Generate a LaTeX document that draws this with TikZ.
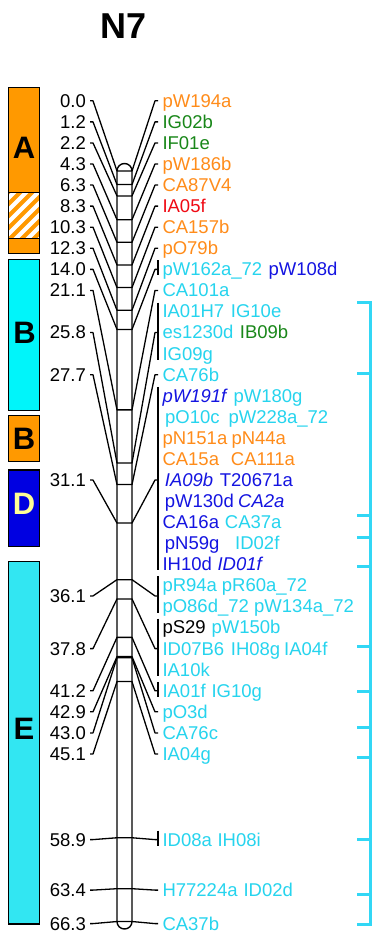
\documentclass[tikz,border=0pt]{standalone}
\usepackage{fontspec}
\setmainfont{Liberation Sans}
\usetikzlibrary{calc}
\definecolor{orgtxt}{RGB}{255,140,26}
\definecolor{cyntxt}{RGB}{38,212,238}
\definecolor{blutxt}{RGB}{20,20,225}
\definecolor{grntxt}{RGB}{25,135,25}
\definecolor{redtxt}{RGB}{240,10,20}
\definecolor{orgbar}{RGB}{255,153,0}
\definecolor{cynB}{RGB}{0,245,250}
\definecolor{cynE}{RGB}{50,230,242}
\definecolor{bluD}{RGB}{0,0,225}
\definecolor{dyel}{RGB}{255,255,150}
\definecolor{brkc}{RGB}{50,215,245}
\begin{document}
\begin{tikzpicture}[x=1pt,y=-1pt,
  conn/.style={line width=1.3pt, black, line join=round},
  numlab/.style={anchor=base east, inner sep=0pt, font=\fontsize{18.5}{20}\selectfont},
  mk/.style={anchor=base west, inner sep=0pt, font=\fontsize{18.5}{20}\selectfont},
  mki/.style={mk, font=\fontsize{18.5}{20}\selectfont\itshape},
  barbox/.style={line width=1.5pt, draw=black},
  barletter/.style={font=\fontsize{31}{34}\selectfont\bfseries, inner sep=0pt},
  brk/.style={line width=3pt, draw=brkc}]

\useasboundingbox (0,0) rectangle (372,933);
\fill[white] (0,0) rectangle (372,933);

% title
\node[font=\fontsize{36}{40}\selectfont\bfseries, inner sep=0pt] (title) at (124,26) {N7};

% linkage group bars
\draw[barbox, fill=orgbar] (8.5,87.3) rectangle (39.5,192.7);
\begin{scope}
  \clip (8.5,192.7) rectangle (39.5,238.3);
  \foreach \s in {-60,-48,...,40} \draw[orgbar, line width=4.2pt] ({8.5+\s},240) -- ++(52,-52);
\end{scope}
\draw[barbox] (8.5,192.7) rectangle (39.5,238.3);
\draw[barbox, fill=orgbar] (8.5,238.3) rectangle (39.5,253.3);
\draw[barbox, fill=cynB] (8.5,259.3) rectangle (39.5,410.5);
\draw[barbox, fill=orgbar] (8.5,415.7) rectangle (39.5,461.7);
\draw[barbox, fill=bluD] (8.5,470) rectangle (39.5,546.7);
\draw[barbox, fill=cynE] (8.5,561.7) rectangle (39.5,924);

\node[barletter] (gA) at (24,148.3) {A};
\node[barletter] (gB1) at (24.5,333.3) {B};
\node[barletter] (gB2) at (24,439) {B};
\node[barletter, text=dyel] (gD) at (24,504) {D};
\node[barletter] (gE) at (24,729) {E};

% chromosome
\draw[line width=1.4pt, fill=white, rounded corners=7.5pt] (117,163.5) rectangle (132,929);

% markers: position / baseline of the cM label / centre of the name row
\foreach \v/\lbase/\rcen [count=\k] in {
  0.0/107.2/100.8, 1.2/128.27/121.87, 2.2/149.34/142.94, 4.3/170.41/164.01,
  6.3/191.48/185.08, 8.3/212.55/206.15, 10.3/233.62/227.22, 12.3/254.69/248.29,
  14.0/275.76/269.36, 21.1/296.83/290.43, 25.8/338.97/332.57, 27.7/381.11/374.71,
  31.1/486.46/480.06, 36.1/602.35/595.95, 37.8/655.02/648.62, 41.2/697.16/690.76,
  42.9/718.23/711.83, 43.0/739.3/732.9, 45.1/760.37/753.97, 58.9/846/839.6,
  63.4/896.5/890.1, 66.3/930/923.6} {
  \pgfmathsetmacro\mky{171+11.32*\v}
  \pgfmathsetmacro\lcen{\lbase-6.4}
  \node[numlab] (n\k) at (86,\lbase) {\v};
  \coordinate (cl\k) at (117,\mky);
  \coordinate (cr\k) at (132,\mky);
  \coordinate (ll\k) at (90,\lcen);
  \coordinate (rr\k) at (158,\rcen);
  \draw[conn] (ll\k) -- ++(3,0) -- (cl\k) -- (cr\k) -- ($(rr\k)+(-3,0)$) -- (rr\k);
}

% groups of names sharing one position
\draw[conn] (158,302.5) -- (158,359.6);
\draw[conn] (158,386.8) -- (158,570.3);
\draw[conn] (158,576.4) -- (158,612.5);
\draw[conn] (158,618.6) -- (158,675.7);
\draw[conn] (158,260.4) -- (158,275.4);
\draw[conn] (158,681.8) -- (158,696.8);
\draw[conn] (158,830.6) -- (158,845.6);

% marker names
\node[mk, text=orgtxt] (w0) at (162.3,107.2) {pW194a};
\node[mk, text=grntxt] (w1) at (162.3,128.27) {IG02b};
\node[mk, text=grntxt] (w2) at (162.3,149.34) {IF01e};
\node[mk, text=orgtxt] (w3) at (162.3,170.41) {pW186b};
\node[mk, text=orgtxt] (w4) at (162.3,191.48) {CA87V4};
\node[mk, text=redtxt] (w5) at (162.3,212.55) {IA05f};
\node[mk, text=orgtxt] (w6) at (162.3,233.62) {CA157b};
\node[mk, text=orgtxt] (w7) at (162.3,254.69) {pO79b};
\node[mk, text=cyntxt] (w8a) at (162.3,275.76) {pW162a\_72};
\node[mk, text=blutxt] (w8b) at (268.3,275.76) {pW108d};
\node[mk, text=cyntxt] (w9) at (162.3,296.83) {CA101a};
\node[mk, text=cyntxt] (w10a) at (162.3,317.9) {IA01H7};
\node[mk, text=cyntxt] (w10b) at (230.7,317.9) {IG10e};
\node[mk, text=cyntxt] (w11a) at (162.3,338.97) {es1230d};
\node[mk, text=grntxt] (w11b) at (239.7,338.97) {IB09b};
\node[mk, text=cyntxt] (w12) at (162.3,360.04) {IG09g};
\node[mk, text=cyntxt] (w13) at (162.3,381.11) {CA76b};
\node[mki, text=blutxt] (w14a) at (162.3,402.18) {pW191f};
\node[mk, text=cyntxt] (w14b) at (233.3,402.18) {pW180g};
\node[mk, text=cyntxt] (w15a) at (165,423.25) {pO10c};
\node[mk, text=cyntxt] (w15b) at (228.3,423.25) {pW228a\_72};
\node[mk, text=orgtxt] (w16a) at (162.3,444.32) {pN151a};
\node[mk, text=orgtxt] (w16b) at (231.3,444.32) {pN44a};
\node[mk, text=orgtxt] (w17a) at (162.3,465.39) {CA15a};
\node[mk, text=orgtxt] (w17b) at (230.7,465.39) {CA111a};
\node[mki, text=blutxt] (w18a) at (164.7,486.46) {IA09b};
\node[mk, text=blutxt] (w18b) at (219.7,486.46) {T20671a};
\node[mk, text=blutxt] (w19a) at (164.7,507.53) {pW130d};
\node[mki, text=blutxt] (w19b) at (238,507.53) {CA2a};
\node[mk, text=blutxt] (w20a) at (162.3,528.6) {CA16a};
\node[mk, text=cyntxt] (w20b) at (224.7,528.6) {CA37a};
\node[mk, text=blutxt] (w21a) at (164.7,549.67) {pN59g};
\node[mk, text=cyntxt] (w21b) at (235,549.67) {ID02f};
\node[mk, text=blutxt] (w22a) at (162.3,570.74) {IH10d};
\node[mki, text=blutxt] (w22b) at (217.3,570.74) {ID01f};
\node[mk, text=cyntxt] (w23a) at (162.3,591.81) {pR94a};
\node[mk, text=cyntxt] (w23b) at (221.7,591.81) {pR60a\_72};
\node[mk, text=cyntxt] (w24a) at (162.3,612.88) {pO86d\_72};
\node[mk, text=cyntxt] (w24b) at (254,612.88) {pW134a\_72};
\node[mk, text=black] (w25a) at (162.3,633.95) {pS29};
\node[mk, text=cyntxt] (w25b) at (211.3,633.95) {pW150b};
\node[mk, text=cyntxt] (w26a) at (162.3,655.02) {ID07B6};
\node[mk, text=cyntxt] (w26b) at (230.7,655.02) {IH08g};
\node[mk, text=cyntxt] (w26c) at (284,655.02) {IA04f};
\node[mk, text=cyntxt] (w27) at (162.3,676.09) {IA10k};
\node[mk, text=cyntxt] (w28a) at (162.3,697.16) {IA01f};
\node[mk, text=cyntxt] (w28b) at (211.3,697.16) {IG10g};
\node[mk, text=cyntxt] (w29) at (162.3,718.23) {pO3d};
\node[mk, text=cyntxt] (w30) at (162.3,739.3) {CA76c};
\node[mk, text=cyntxt] (w31) at (162.3,760.37) {IA04g};
\node[mk, text=cyntxt] (w32a) at (162.3,846) {ID08a};
\node[mk, text=cyntxt] (w32b) at (217.3,846) {IH08i};
\node[mk, text=cyntxt] (w33a) at (162.3,896.5) {H77224a};
\node[mk, text=cyntxt] (w33b) at (243.3,896.5) {ID02d};
\node[mk, text=cyntxt] (w34) at (162.3,930) {CA37b};

% bracket on the right
\draw[brk] (357,302) -- (370.5,302) -- (370.5,924) -- (357,924);
\foreach \t in {373,515,537,566,646,691,727,757,839,894}
  \draw[brk] (357,\t) -- (370.5,\t);
\end{tikzpicture}
\end{document}
